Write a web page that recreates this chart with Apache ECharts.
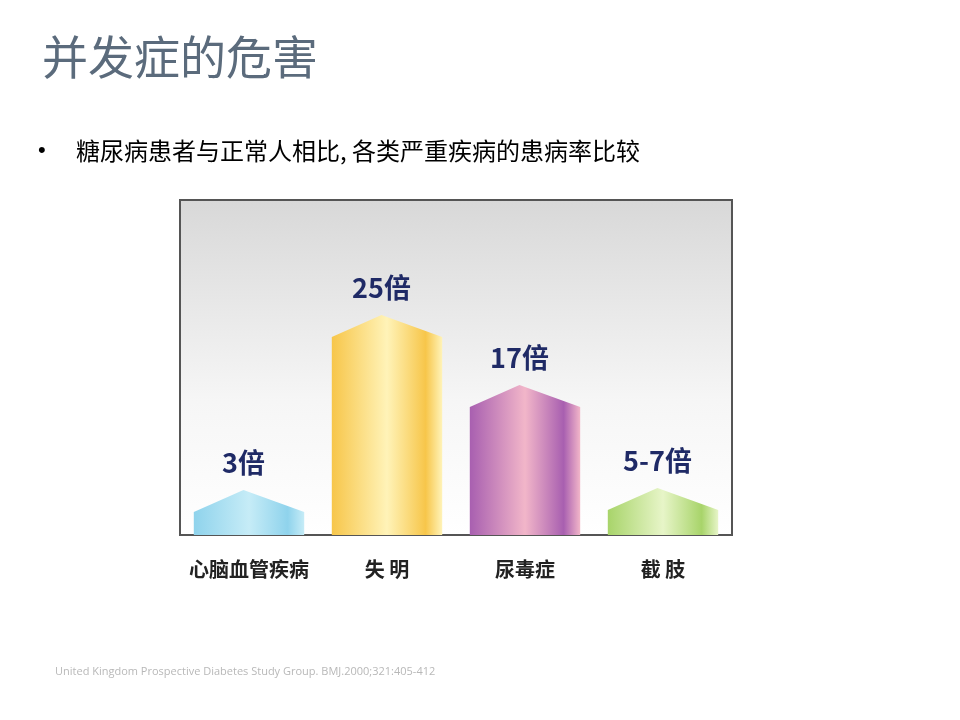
<!DOCTYPE html>
<html><head><meta charset="utf-8">
<script src="https://cdn.jsdelivr.net/npm/echarts@6/dist/echarts.min.js"></script>
<style>html,body{margin:0;background:#fff}#c{width:960px;height:720px}</style>
</head><body><div id="c"></div>
<script>
// 数据
var categories = ['心脑血管疾病', '失 明', '尿毒症', '截 肢']
var labels = ['3倍', '25倍', '17倍', '5-7倍']
// 图中柱子高度（原图非等比例，按图读取）
var heights = [4.5, 22, 15, 4.7]
var colors = [
    ['#8fd3ec', '#c6ecf7'],
    ['#f7c64a', '#fff3b8'],
    ['#a85fb0', '#f2b6c9'],
    ['#a8d46a', '#e7f5c8']
]

var myChart = echarts.init(document.getElementById('c'))

var option = {
    backgroundColor: '#fff',
    animation: false,
    graphic: [
        { type: 'text', left: 42, top: 34, style: { text: '并发症的危害', fontSize: 46, fill: '#5b6b7c', fontFamily: 'Noto Sans CJK SC' } },
        { type: 'text', left: 38, top: 140, style: { text: '•', fontSize: 22, fill: '#000' } },
        { type: 'text', left: 76, top: 139, style: { text: '糖尿病患者与正常人相比, 各类严重疾病的患病率比较', fontSize: 24, fill: '#000', fontFamily: 'Noto Sans CJK SC' } },
        { type: 'text', left: 55, top: 666, style: { text: 'United Kingdom Prospective Diabetes Study Group. BMJ.2000;321:405-412', fontSize: 11, fill: '#b8b8b8', fontFamily: 'Open Sans' } },
        {
            type: 'rect', shape: { x: 180, y: 200, width: 552, height: 335 }, z: -1,
            style: {
                fill: new echarts.graphic.LinearGradient(0, 0, 0, 1, [
                    { offset: 0, color: '#d8d8d8' }, { offset: 0.6, color: '#f6f6f6' }, { offset: 1, color: '#ffffff' }
                ]),
                stroke: '#555', lineWidth: 2
            }
        }
    ],
    grid: { left: 180, right: 228, top: 200, bottom: 185 },
    xAxis: {
        type: 'category', data: categories,
        axisLine: { show: false }, axisTick: { show: false },
        axisLabel: { interval: 0, fontSize: 20, color: '#222', fontWeight: 'bold', margin: 24, fontFamily: 'Noto Sans CJK SC' }
    },
    yAxis: { type: 'value', min: 0, max: 33.5, show: false, splitLine: { show: false } },
    series: [{
        type: 'custom',
        data: heights.map(function (h, i) { return [i, h] }),
        encode: { x: 0, y: 1 },
        renderItem: function (params, api) {
            var i = params.dataIndex
            var base = api.coord([i, 0])
            var top = api.coord([i, api.value(1)])
            var w = api.size([1, 0])[0] * 0.8
            var l = base[0] - w / 2, r = base[0] + w / 2
            var roof = Math.min(22, (base[1] - top[1]) * 0.5)
            var c = colors[i]
            return {
                type: 'group',
                children: [{
                    type: 'polygon',
                    shape: { points: [[l, base[1]], [l, top[1] + roof], [base[0] - w * 0.05, top[1]], [r, top[1] + roof], [r, base[1]]] },
                    style: {
                        fill: new echarts.graphic.LinearGradient(0, 0, 1, 0, [
                            { offset: 0, color: c[0] }, { offset: 0.5, color: c[1] }, { offset: 0.85, color: c[0] }, { offset: 1, color: c[1] }
                        ])
                    }
                }, {
                    type: 'text',
                    style: {
                        text: labels[i], x: base[0] - w * 0.05, y: top[1] - 14,
                        align: 'center', verticalAlign: 'bottom',
                        fontSize: 27, fontWeight: 'bold', fill: '#1f2a66', fontFamily: 'Noto Sans CJK SC'
                    }
                }]
            }
        }
    }]
}

myChart.setOption(option)
window.addEventListener('resize', function () {
    myChart.resize()
})
</script>
</body></html>
